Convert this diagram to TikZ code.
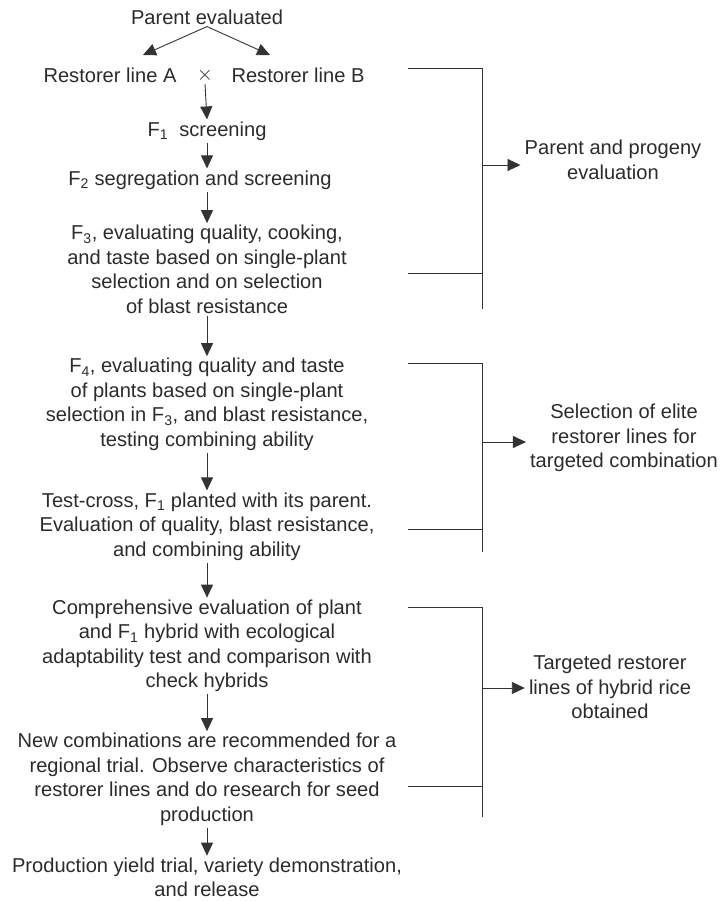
\documentclass[tikz,border=0pt]{standalone}
\usepackage{fontspec}
\setmainfont{Liberation Sans}
\usetikzlibrary{arrows.meta, calc}
\definecolor{inkgray}{HTML}{2B2B2B}
\definecolor{linegray}{HTML}{333333}

\tikzset{
  stage/.style={text=inkgray, align=center, inner sep=2pt,
    font=\fontsize{20.1}{24.5}\selectfont},
  side/.style={stage, inner sep=4pt},
  link/.style={linegray, line width=0.9pt, -{Triangle[length=13pt, width=12pt]}},
  brace/.style={linegray, line width=0.9pt}
}

\begin{document}
\begin{tikzpicture}[x=1pt, y=-1pt]

\useasboundingbox (0,0) rectangle (722,901);

% Main column
\coordinate (col) at (207,0);

% ================================================================
% Crossing of the two restorer lines
% ================================================================
\node[stage] (parent) at (207,17) {Parent evaluated};
\node[stage] (restA) at (110,75) {Restorer line A};
\node[stage] (cross) at (205,75) {$\times$};
\node[stage] (restB) at (298,75) {Restorer line B};

\coordinate (tipA) at (143,55);
\coordinate (tipB) at (270,55);
\draw[link] (parent.south) -- (tipA);
\draw[link] (parent.south) -- (tipB);

% ================================================================
% Generations
% ================================================================
\node[stage] (f1) at (207,131) {F\textsubscript{1}\ \ screening};
\node[stage] (f2) at (200,180) {F\textsubscript{2} segregation and screening};
\node[stage] (f3) at (207,269.5)
  {F\textsubscript{3}, evaluating quality, cooking,\\
   and taste based on single-plant\\
   selection and on selection\\
   of blast resistance};
\node[stage] (f4) at (207,404.5)
  {F\textsubscript{4}, evaluating quality and taste\\
   of plants based on single-plant\\
   selection in F\textsubscript{3}, and blast resistance,\\
   testing combining ability};
\node[stage] (test) at (207,526.5)
  {Test-cross, F\textsubscript{1} planted with its parent.\\
   Evaluation of quality, blast resistance,\\
   and combining ability};
\node[stage] (comp) at (207,646)
  {Comprehensive evaluation of plant\\
   and F\textsubscript{1} hybrid with ecological\\
   adaptability test and comparison with\\
   check hybrids};
\node[stage] (newc) at (207,779.5)
  {New combinations are recommended for a\\
   regional trial. Observe characteristics of\\
   restorer lines and do research for seed\\
   production};
\node[stage] (prod) at (207,877.5)
  {Production yield trial, variety demonstration,\\
   and release};

\draw[link] (cross.south) -- (f1.north -| col);
\draw[link] (f1.south -| col) -- (f2.north -| col);
\draw[link] (f2.south -| col) -- (f3.north);
\draw[link] (f3.south) -- (f4.north);
\draw[link] (f4.south) -- (test.north);
\draw[link] (test.south) -- (comp.north);
\draw[link] (comp.south) -- (newc.north);
\draw[link] (newc.south) -- (prod.north);

% ================================================================
% Brackets on the right
% ================================================================
\node[side] (eval) at (613,160) {Parent and progeny\\ evaluation};
\draw[brace] (408,68) -- (482,68) (408,273) -- (482,273)
  (482,68) -- (482,309);
\coordinate (br1) at (482,165);
\draw[link] (br1) -- (br1 -| eval.west);

\node[side] (elite) at (624,438)
  {Selection of elite\\ restorer lines for\\ targeted combination};
\draw[brace] (408,363) -- (482,363) (408,529) -- (482,529)
  (482,363) -- (482,552);
\coordinate (br2) at (482,442);
\draw[link] (br2) -- (br2 -| elite.west);

\node[side] (target) at (610,687)
  {Targeted restorer\\ lines of hybrid rice\\ obtained};
\draw[brace] (408,607) -- (482,607) (408,786) -- (482,786)
  (482,607) -- (482,817);
\coordinate (br3) at (482,688);
\draw[link] (br3) -- (br3 -| target.west);

\end{tikzpicture}
\end{document}
